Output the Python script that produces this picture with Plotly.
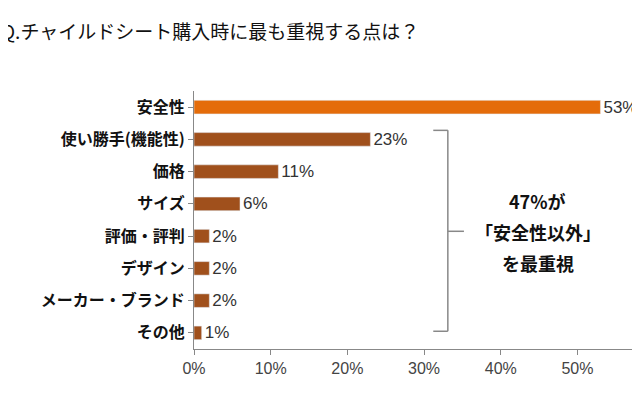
import plotly.graph_objects as go

labels = ["安全性", "使い勝手(機能性)", "価格", "サイズ", "評価・評判", "デザイン", "メーカー・ブランド", "その他"]
values = [53, 23, 11, 6, 2, 2, 2, 1]
colors = ["#E46C0A"] + ["#A0501C"] * 7
ticks = [0, 10, 20, 30, 40, 50]
note_lines = ["47%が", "「安全性以外」", "を最重視"]

fig = go.Figure(go.Bar(
    x=values, y=list(range(len(labels))), orientation="h",
    marker_color=colors, width=0.42,
    text=[f"{v}%" for v in values], textposition="outside", constraintext="none",
    outsidetextfont=dict(size=17, color="#333", family="Liberation Sans Narrow, Liberation Sans"),
    cliponaxis=False,
))

fig.update_layout(
    width=640, height=400, plot_bgcolor="white", paper_bgcolor="white",
    margin=dict(l=186, r=0, t=83, b=59), showlegend=False,
    font=dict(family="Noto Sans CJK JP"),
    xaxis=dict(range=[0, 59.2], tickvals=ticks, ticktext=[f"{t}%" for t in ticks],
               showgrid=False, showline=True, linecolor="#888", ticks="outside",
               tickcolor="#888", ticklen=5, zeroline=False, automargin=False,
               tickfont=dict(size=16, color="#444", family="Liberation Sans Narrow, Liberation Sans")),
    yaxis=dict(range=[7.5, -0.5], tickvals=list(range(len(labels))),
               ticktext=[f"<b>{l}</b>" for l in labels],
               showgrid=False, showline=True, linecolor="#888", ticks="outside",
               tickcolor="#888", ticklen=5, zeroline=False, automargin=False,
               tickfont=dict(size=16, color="#111", family="Noto Sans CJK JP")),
)

# 60% tick label cut by the right edge
fig.add_annotation(x=1, xref="paper", y=-0.075, yref="paper", text="6", showarrow=False,
                   xanchor="right", yanchor="top",
                   font=dict(size=16, color="#444", family="Liberation Sans Narrow, Liberation Sans"))

fig.add_annotation(x=-0.43, xref="paper", y=(341 - 22) / 258, yref="paper", yanchor="middle",
                   text="Q.チャイルドシート購入時に最も重視する点は？", showarrow=False, xanchor="left",
                   font=dict(size=19, color="#111"))

# brace
bx, hx, tx = 33.1, 31.2, 35.2
ln = dict(color="#888", width=1.5)
for x0, y0, x1, y1 in [(hx, 0.72, bx, 0.72), (bx, 0.72, bx, 6.95), (hx, 6.95, bx, 6.95), (bx, 3.85, tx, 3.85)]:
    fig.add_shape(type="line", xref="x", yref="y", x0=x0, y0=y0, x1=x1, y1=y1, line=ln)

for i, t in enumerate(note_lines):
    fig.add_annotation(x=44.8, y=2.9 + i * 0.97, xref="x", yref="y", showarrow=False,
                       text=f"<b>{t}</b>", font=dict(size=18, color="#111"))

fig.write_html("out.html")
